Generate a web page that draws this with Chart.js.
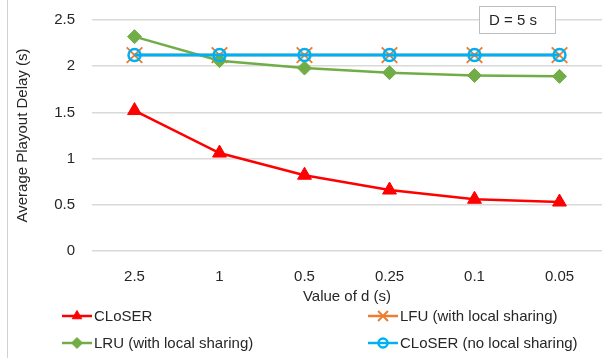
<!DOCTYPE html>
<html>
<head>
<meta charset="utf-8">
<script src="https://cdn.jsdelivr.net/npm/chart.js@4"></script>
<style>
  body { margin: 0; background: #fff; }
  #wrap { position: relative; width: 616px; height: 358px; }
  #wrap canvas { position: absolute; left: 0; top: 0; }
  #edge { position: absolute; left: 7px; top: 0; width: 0; height: 358px; border-left: 1px solid #d0d0d0; }
</style>
</head>
<body>
<div id="wrap">
  <div id="edge"></div>
  <canvas id="delayChart" width="616" height="358"></canvas>
</div>
<script>
// values
const dValues = ['2.5', '1', '0.5', '0.25', '0.1', '0.05'];
const closer = [1.52, 1.06, 0.82, 0.66, 0.56, 0.53];
const lfuShared = [2.12, 2.12, 2.12, 2.12, 2.12, 2.12];
const lruShared = [2.32, 2.06, 1.98, 1.93, 1.90, 1.89];
const closerNoShare = [2.12, 2.12, 2.12, 2.12, 2.12, 2.12];

const textColor = '#262626';
const fontFamily = '"Liberation Sans", Arial, sans-serif';

const datasets = [
  {
    label: 'CLoSER', data: closer, order: 0,
    borderColor: '#ff0000', backgroundColor: '#ff0000', borderWidth: 2.5,
    pointStyle: 'triangle', pointRadius: 8, pointBorderWidth: 1
  },
  {
    label: 'LFU (with local sharing)', data: lfuShared, order: 3,
    borderColor: '#ed7d31', backgroundColor: '#ed7d31', borderWidth: 2.5,
    pointStyle: 'crossRot', pointRadius: 11, pointBorderWidth: 2
  },
  {
    label: 'LRU (with local sharing)', data: lruShared, order: 2,
    borderColor: '#70ad47', backgroundColor: '#70ad47', borderWidth: 2.5,
    pointStyle: 'rectRot', pointRadius: 7, pointBorderWidth: 1
  },
  {
    label: 'CLoSER (no local sharing)', data: closerNoShare, order: 1,
    borderColor: '#00b0f0', backgroundColor: 'rgba(0,0,0,0)', borderWidth: 3,
    pointStyle: 'circle', pointRadius: 6, pointBorderWidth: 2.5
  }
];

// legend in two columns plus the "D = 5 s" note
const extrasPlugin = {
  id: 'extras',
  afterDraw(chart) {
    const ctx = chart.ctx;
    ctx.save();
    ctx.font = '15px ' + fontFamily;
    ctx.textBaseline = 'middle';

    // note box
    ctx.fillStyle = '#fff';
    ctx.fillRect(479, 6, 76, 27);
    ctx.strokeStyle = '#bfbfbf';
    ctx.lineWidth = 1;
    ctx.strokeRect(479.5, 6.5, 76, 27);
    ctx.fillStyle = textColor;
    ctx.textAlign = 'left';
    ctx.fillText('D = 5 s', 489, 21);

    const slots = [[62, 316], [368, 316], [62, 343], [368, 343]];
    chart.data.datasets.forEach((ds, i) => {
      const [x, y] = slots[i];
      ctx.strokeStyle = ds.borderColor;
      ctx.lineWidth = 2.5;
      ctx.beginPath();
      ctx.moveTo(x, y);
      ctx.lineTo(x + 30, y);
      ctx.stroke();
      ctx.fillStyle = ds.backgroundColor;
      ctx.strokeStyle = ds.borderColor;
      ctx.lineWidth = ds.pointBorderWidth;
      Chart.helpers.drawPoint(ctx, {
        pointStyle: ds.pointStyle,
        radius: ds.pointStyle === 'circle' ? 4.5 : (ds.pointStyle === 'crossRot' ? 7 : 5.5),
        rotation: 0,
        borderWidth: ds.pointBorderWidth
      }, x + 15, y);
      ctx.fillStyle = textColor;
      ctx.fillText(ds.label, x + 32, y + 1);
    });
    ctx.restore();
  }
};

new Chart(document.getElementById('delayChart'), {
  type: 'line',
  data: { labels: dValues, datasets: datasets },
  options: {
    responsive: false,
    animation: false,
    layout: { autoPadding: false, padding: { left: 10, right: 14, top: 20, bottom: 52 } },
    plugins: { legend: { display: false }, tooltip: { enabled: false } },
    scales: {
      x: {
        offset: true,
        grid: { display: false, drawTicks: false },
        border: { display: false },
        ticks: { color: textColor, padding: 17, font: { size: 15, family: fontFamily } },
        title: {
          display: true, text: 'Value of d (s)', color: textColor,
          padding: 0, font: { size: 15, family: fontFamily }
        },
        afterFit(scale) {
          scale.height = 55;
          scale.paddingLeft = 0;
          scale.paddingRight = 0;
        }
      },
      y: {
        min: 0, max: 2.5,
        grid: { color: '#d9d9d9', lineWidth: 1.5, drawTicks: false },
        border: { display: false },
        ticks: {
          stepSize: 0.5, color: textColor, padding: 17, font: { size: 15, family: fontFamily },
          callback: v => String(Number(v.toFixed(2)))
        },
        title: {
          display: true, text: 'Average Playout Delay (s)', color: textColor,
          padding: { top: 4, bottom: 0 }, font: { size: 15, family: fontFamily }
        },
        afterFit(scale) {
          scale.width = 82;
          scale.paddingTop = 0;
          scale.paddingBottom = 0;
        }
      }
    }
  },
  plugins: [extrasPlugin]
});
</script>
</body>
</html>
